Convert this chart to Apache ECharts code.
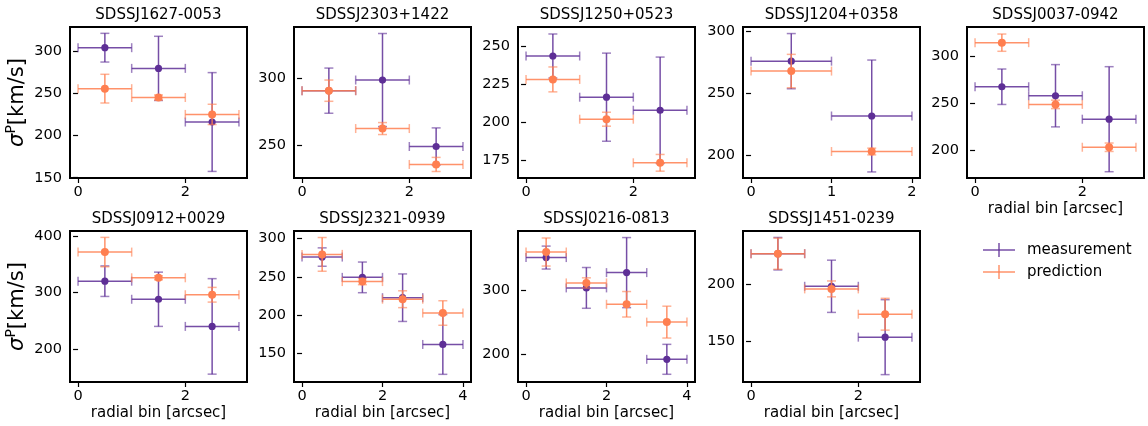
<!DOCTYPE html>
<html>
<head>
<meta charset="utf-8">
<script src="https://cdn.jsdelivr.net/npm/echarts@6/dist/echarts.min.js"></script>
<style>
  html, body { margin: 0; padding: 0; background: #fff; }
  #chart { width: 1148px; height: 426px; }
</style>
</head>
<body>
<div id="chart"></div>
<script>
// Lens galaxies, one panel each
const lensNames = [
  'SDSSJ1627-0053', 'SDSSJ2303+1422', 'SDSSJ1250+0523', 'SDSSJ1204+0358', 'SDSSJ0037-0942',
  'SDSSJ0912+0029', 'SDSSJ2321-0939', 'SDSSJ0216-0813', 'SDSSJ1451-0239'
];
// Radial bin centres [arcsec]; each bin is 1 arcsec wide
const binCenters = [
  [0.5, 1.5, 2.5], [0.5, 1.5, 2.5], [0.5, 1.5, 2.5], [0.5, 1.5], [0.5, 1.5, 2.5],
  [0.5, 1.5, 2.5], [0.5, 1.5, 2.5, 3.5], [0.5, 1.5, 2.5, 3.5], [0.5, 1.5, 2.5]
];
const binHalfWidth = 0.5;
// Measured velocity dispersion [km/s] and its 1-sigma error
const measured = [
  [304, 279.5, 216], [291, 299, 249], [243.4, 216.3, 207.7], [276, 231.7], [267.3, 257.7, 232.7],
  [320, 288, 240], [276, 249.5, 223, 162], [351.3, 303.7, 327.7, 191.6], [227, 198.3, 153.5]
];
const measuredErr = [
  [17, 38, 58.5], [17, 35, 14], [14.5, 29, 35], [22.3, 45.2], [18.9, 33.2, 56],
  [27, 48, 84.5], [12, 20, 31, 39], [18, 32, 55, 23.5], [14.3, 23, 33]
];
// Model prediction [km/s] and its 1-sigma error
const predicted = [
  [255.5, 245, 225], [291, 262.5, 235.5], [228, 201.8, 173.1], [268, 203], [314.3, 248.5, 202.8],
  [371.5, 326, 296], [279.5, 244, 221, 203], [360, 311.5, 278, 250], [227, 196, 173.7]
];
const predictedErr = [
  [17, 3, 12], [8, 4.5, 5.3], [8.2, 4.6, 5.5], [13.5, 2.7], [9.2, 4.5, 4.5],
  [26, 3.5, 13], [22, 4, 11, 16], [22, 8, 20, 25], [13.7, 7, 14]
];
// Axis ranges and tick labels
const yRanges = [
  [149.7, 328.5], [225.3, 338.9], [163.1, 262.5], [181.6, 303.6], [170, 331],
  [141.6, 408.8], [113, 310], [156, 393], [114, 247]
];
const yTicks = [
  [150, 200, 250, 300], [250, 300], [175, 200, 225, 250], [200, 250, 300], [200, 250, 300],
  [200, 300, 400], [150, 200, 250, 300], [200, 300], [150, 200]
];
const xTicks = [
  [0, 2], [0, 2], [0, 2], [0, 1, 2], [0, 2],
  [0, 2], [0, 2, 4], [0, 2, 4], [0, 2]
];
const seriesNames = ['measurement', 'prediction'];
const seriesColors = ['#5e2f96', '#ff7f50'];

// Panel layout
const colLeft = [70, 294, 518, 743, 967];
const rowTop = [27, 231];
const panelW = 177, panelH = 151;
const font = 'DejaVu Sans';

function errorBarRenderer(color, radius) {
  return function (params, api) {
    const x = api.value(0), y = api.value(1), e = api.value(2);
    const c = api.coord([x, y]);
    const l = api.coord([x - binHalfWidth, y]);
    const r = api.coord([x + binHalfWidth, y]);
    const t = api.coord([x, y + e]);
    const b = api.coord([x, y - e]);
    const cap = 4.5;
    const lineStyle = { stroke: color, lineWidth: 1.5, opacity: 0.85 };
    const capStyle = { stroke: color, lineWidth: 1.5, opacity: 0.6 };
    return {
      type: 'group',
      children: [
        { type: 'line', shape: { x1: l[0], y1: l[1], x2: r[0], y2: r[1] }, style: lineStyle },
        { type: 'line', shape: { x1: t[0], y1: t[1], x2: b[0], y2: b[1] }, style: lineStyle },
        { type: 'line', shape: { x1: l[0], y1: l[1] - cap, x2: l[0], y2: l[1] + cap }, style: capStyle },
        { type: 'line', shape: { x1: r[0], y1: r[1] - cap, x2: r[0], y2: r[1] + cap }, style: capStyle },
        { type: 'line', shape: { x1: t[0] - cap, y1: t[1], x2: t[0] + cap, y2: t[1] }, style: capStyle },
        { type: 'line', shape: { x1: b[0] - cap, y1: b[1], x2: b[0] + cap, y2: b[1] }, style: capStyle },
        { type: 'circle', shape: { cx: c[0], cy: c[1], r: radius }, style: { fill: color } }
      ]
    };
  };
}

const grids = [], xAxes = [], yAxes = [], series = [], titles = [];
lensNames.forEach((name, i) => {
  const row = i < 5 ? 0 : 1;
  const col = i < 5 ? i : i - 5;
  const left = colLeft[col], top = rowTop[row];
  grids.push({
    left: left, top: top, width: panelW, height: panelH,
    show: true, borderColor: '#000', borderWidth: 2, backgroundColor: 'transparent'
  });
  titles.push({
    text: name, left: left + panelW / 2, top: top - 19, textAlign: 'center', padding: 0,
    textStyle: { fontFamily: font, fontSize: 15, fontWeight: 'normal', color: '#000' }
  });
  const nBins = binCenters[i].length;
  const pad = nBins * 0.05;
  const showXName = (i >= 4);
  xAxes.push({
    type: 'value', gridIndex: i, min: -pad, max: nBins + pad,
    name: showXName ? 'radial bin [arcsec]' : '',
    nameLocation: 'middle', nameGap: 24,
    nameTextStyle: { fontFamily: font, fontSize: 15, color: '#000' },
    axisLine: { show: false },
    axisTick: { show: true, inside: false, length: 5, customValues: xTicks[i], lineStyle: { color: '#000', width: 1.2 } },
    axisLabel: { customValues: xTicks[i], fontFamily: font, fontSize: 14.5, color: '#000', margin: 7 },
    splitLine: { show: false }
  });
  yAxes.push({
    type: 'value', gridIndex: i, min: yRanges[i][0], max: yRanges[i][1],
    axisLine: { show: false },
    axisTick: { show: true, inside: false, length: 5, customValues: yTicks[i], lineStyle: { color: '#000', width: 1.2 } },
    axisLabel: { customValues: yTicks[i], fontFamily: font, fontSize: 14.5, color: '#000', margin: 8 },
    splitLine: { show: false }
  });
  [[measured, measuredErr], [predicted, predictedErr]].forEach((pair, k) => {
    const vals = pair[0][i], errs = pair[1][i];
    series.push({
      type: 'custom',
      name: seriesNames[k],
      xAxisIndex: i, yAxisIndex: i,
      itemStyle: { color: seriesColors[k] },
      renderItem: errorBarRenderer(seriesColors[k], k === 0 ? 3.6 : 4),
      encode: { x: 0, y: 1 },
      data: binCenters[i].map((x, j) => [x, vals[j], errs[j]]),
      z: 2 + k,
      clip: false,
      silent: true
    });
  });
});

const graphics = [];
// Vertical axis title for each row: sigma with superscript P
rowTop.forEach((top) => {
  graphics.push({
    type: 'text', x: 18, y: top + panelH / 2, rotation: Math.PI / 2,
    style: {
      text: '{s|σ}{p|P}{u|[km/s]}',
      align: 'center', verticalAlign: 'middle',
      fontFamily: font, fontSize: 21, fill: '#000',
      rich: {
        s: { fontFamily: font, fontSize: 21, fontStyle: 'italic', lineHeight: 28, verticalAlign: 'middle', fill: '#000' },
        p: { fontFamily: font, fontSize: 14, lineHeight: 14, verticalAlign: 'top', fill: '#000' },
        u: { fontFamily: font, fontSize: 21, lineHeight: 28, verticalAlign: 'middle', fill: '#000' }
      }
    }
  });
});

// Legend: error-bar crosses with labels
seriesNames.forEach((label, k) => {
  const cy = 250 + k * 22;
  const color = seriesColors[k];
  graphics.push(
    { type: 'line', shape: { x1: 983, y1: cy, x2: 1015, y2: cy }, style: { stroke: color, lineWidth: 1.5, opacity: 0.85 } },
    { type: 'line', shape: { x1: 999, y1: cy - 7, x2: 999, y2: cy + 7 }, style: { stroke: color, lineWidth: 1.5, opacity: 0.85 } },
    { type: 'text', x: 1027, y: cy, style: { text: label, fontFamily: font, fontSize: 15, fill: '#000', verticalAlign: 'middle', align: 'left' } }
  );
});

const chart = echarts.init(document.getElementById('chart'), null, { renderer: 'canvas' });
chart.setOption({
  animation: false,
  backgroundColor: '#fff',
  title: titles,
  grid: grids,
  xAxis: xAxes,
  yAxis: yAxes,
  series: series,
  graphic: graphics
});
</script>
</body>
</html>
